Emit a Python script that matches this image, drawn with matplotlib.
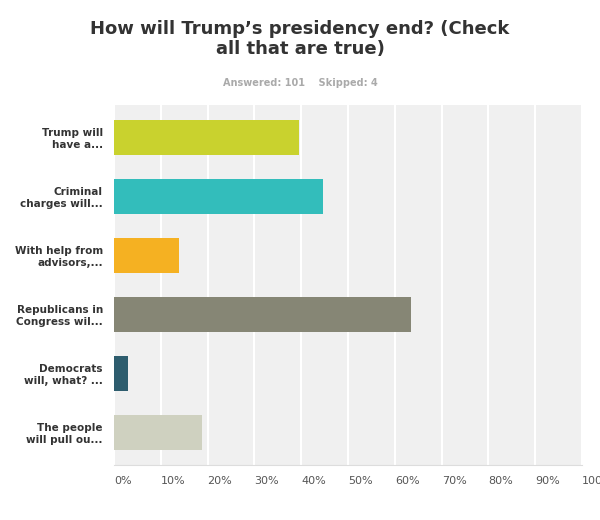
import matplotlib.pyplot as plt

labels = ["Trump will\nhave a...", "Criminal\ncharges will...", "With help from\nadvisors,...",
          "Republicans in\nCongress wil...", "Democrats\nwill, what? ...", "The people\nwill pull ou..."]
values = [39.6, 44.6, 13.9, 63.4, 3.0, 18.8]
colors = ["#c9d22e", "#33bdbb", "#f5b122", "#868675", "#2e5d6e", "#cfd1c0"]
ticks = list(range(0, 101, 10))

fig = plt.figure(figsize=(6, 5.2), dpi=100)
ax = fig.add_axes([0.19, 0.106, 0.78, 0.692])
ax.set_facecolor("#f0f0f0")
pos = list(range(len(labels)))
ax.barh(pos, values, height=0.6, color=colors, zorder=2)
ax.set_ylim(len(labels) - 0.45, -0.55)
ax.set_xlim(0, 100)
ax.set_xticks(ticks)
ax.set_xticklabels([f"{t}%" for t in ticks], fontsize=8, color="#555555")
for lbl in ax.get_xticklabels():
    lbl.set_horizontalalignment("left")
ax.set_yticks(pos)
ax.set_yticklabels(labels, fontsize=7.5, fontweight="bold", color="#333333")
ax.xaxis.grid(True, color="white", linewidth=1.5, zorder=1)
ax.tick_params(length=0, pad=8)
for s in ax.spines.values():
    s.set_visible(False)
ax.spines["bottom"].set_visible(True)
ax.spines["bottom"].set_color("#dddddd")

fig.text(0.5, 0.925, "How will Trump\u2019s presidency end? (Check\nall that are true)",
         ha="center", va="center", fontsize=13, fontweight="bold", color="#333333")
fig.text(0.5, 0.84, "Answered: 101    Skipped: 4", ha="center", va="center",
         fontsize=7, fontweight="bold", color="#aaaaaa")
fig.savefig("out.png")
